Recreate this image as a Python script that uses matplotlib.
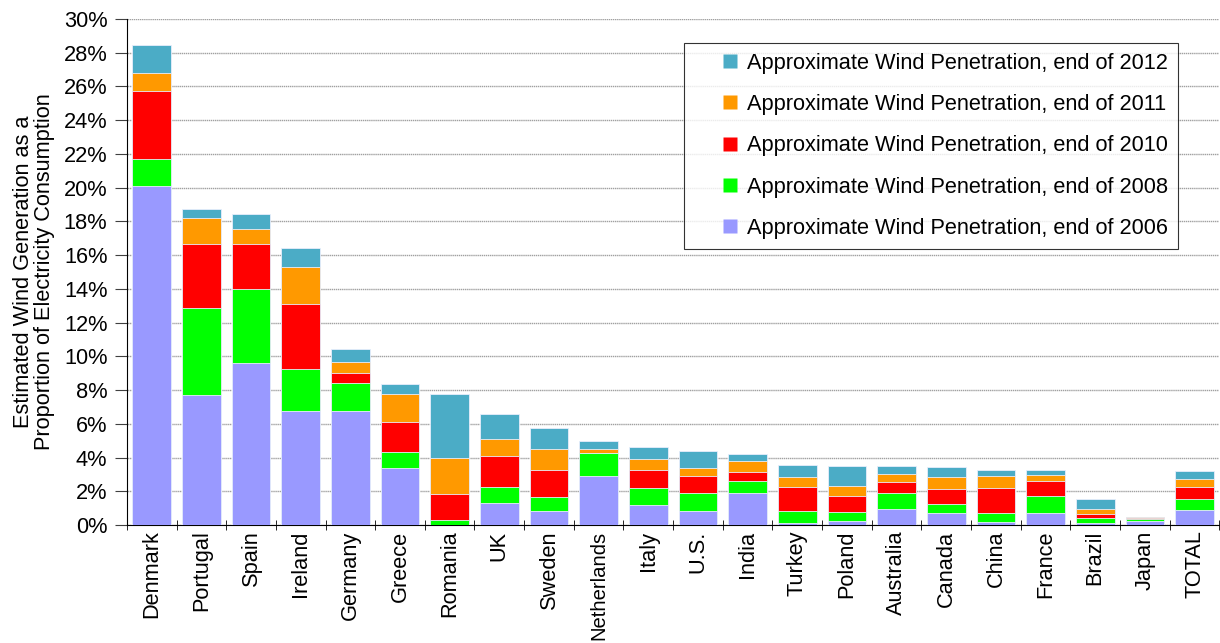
import numpy as np
import matplotlib.pyplot as plt
from matplotlib.lines import Line2D

plt.rcParams['font.family'] = ['Liberation Sans', 'DejaVu Sans']

countries = ["Denmark", "Portugal", "Spain", "Ireland", "Germany", "Greece", "Romania",
             "UK", "Sweden", "Netherlands", "Italy", "U.S.", "India", "Turkey", "Poland",
             "Australia", "Canada", "China", "France", "Brazil", "Japan", "TOTAL"]

# penetration (%) at end of each year
pen_2012 = [28.45, 18.75, 18.42, 16.44, 10.41, 8.38, 7.77, 6.56, 5.73, 4.96, 4.62, 4.40,
            4.21, 3.54, 3.50, 3.48, 3.42, 3.28, 3.24, 1.52, 0.45, 3.18]
pen_2011 = [26.80, 18.22, 17.53, 15.29, 9.66, 7.75, 3.99, 5.08, 4.49, 4.49, 3.89, 3.40,
            3.81, 2.86, 2.31, 3.04, 2.85, 2.88, 2.95, 0.97, 0.45, 2.71]
pen_2010 = [25.74, 16.66, 16.66, 13.10, 9.01, 6.11, 1.86, 4.09, 3.28, 4.29, 3.28, 2.90,
            3.16, 2.25, 1.72, 2.53, 2.11, 2.19, 2.61, 0.65, 0.43, 2.25]
pen_2008 = [21.68, 12.86, 13.97, 9.25, 8.40, 4.33, 0.30, 2.25, 1.66, 4.29, 2.19, 1.88,
            2.61, 0.85, 0.75, 1.90, 1.24, 0.69, 1.72, 0.41, 0.35, 1.52]
pen_2006 = [20.11, 7.69, 9.60, 6.74, 6.78, 3.40, 0.00, 1.28, 0.85, 2.90, 1.17, 0.83,
            1.88, 0.10, 0.24, 0.95, 0.69, 0.18, 0.71, 0.12, 0.24, 0.91]

series = [
    ("Approximate Wind Penetration, end of 2012", pen_2012, "#4BACC6"),
    ("Approximate Wind Penetration, end of 2011", pen_2011, "#FF9900"),
    ("Approximate Wind Penetration, end of 2010", pen_2010, "#FF0000"),
    ("Approximate Wind Penetration, end of 2008", pen_2008, "#00FF00"),
    ("Approximate Wind Penetration, end of 2006", pen_2006, "#9999FF"),
]

fs = 15.7

fig = plt.figure(figsize=(12.2, 6.43), dpi=100)
ax = fig.add_axes([0.104, 0.1835, 0.8955, 0.787])

x = np.arange(len(countries))
# later years drawn behind, earlier years in front
for label, vals, col in series:
    ax.bar(x, vals, width=0.78, color=col, edgecolor="#e8eefc", linewidth=0.6, zorder=3)

ax.set_xlim(-0.5, len(countries) - 0.5)
ax.set_ylim(0, 30)
ax.set_yticks(np.arange(0, 31, 2))
ax.set_yticklabels(["%d%%" % v for v in range(0, 31, 2)], fontsize=fs)
ax.yaxis.grid(True, color="#a0a0a0", linestyle=(0, (1, 0.5)), linewidth=1.0, zorder=0)

ax.set_xticks(x)
ax.set_xticklabels(countries, rotation=90, fontsize=fs, va="top", ha="center")
# longest name would run off the bottom edge, shrink it a touch
for t in ax.get_xticklabels():
    if t.get_text() == "Netherlands":
        t.set_fontsize(14.6)
ax.set_xticks(np.arange(-0.5, len(countries) - 0.4, 1), minor=True)
ax.tick_params(axis="x", which="major", length=0, pad=4)
ax.tick_params(axis="x", which="minor", length=7, direction="inout", color="black")
ax.tick_params(axis="y", length=9, direction="out", pad=5, color="#404040")

for s in ["top", "right"]:
    ax.spines[s].set_visible(False)
ax.spines["left"].set_color("black")
ax.spines["bottom"].set_color("black")

ax.set_ylabel("Estimated Wind Generation as a\nProportion of Electricity Consumption",
              fontsize=fs, labelpad=6, linespacing=1.05)

handles = [Line2D([], [], marker="s", linestyle="none", markersize=9.5,
                  markerfacecolor=col, markeredgecolor="none", label=label)
           for label, vals, col in series]
leg = ax.legend(handles=handles, loc="upper left", bbox_to_anchor=(684 / 1220, 1 - 43 / 643),
                bbox_transform=fig.transFigure, borderaxespad=0,
                fontsize=fs, frameon=True, fancybox=False, edgecolor="black",
                handlelength=3.3, handleheight=0.7, labelspacing=0.93, borderpad=0.45,
                handletextpad=-0.85)
leg.get_frame().set_linewidth(0.8)
leg.set_zorder(5)

fig.savefig("out.png", dpi=100)
